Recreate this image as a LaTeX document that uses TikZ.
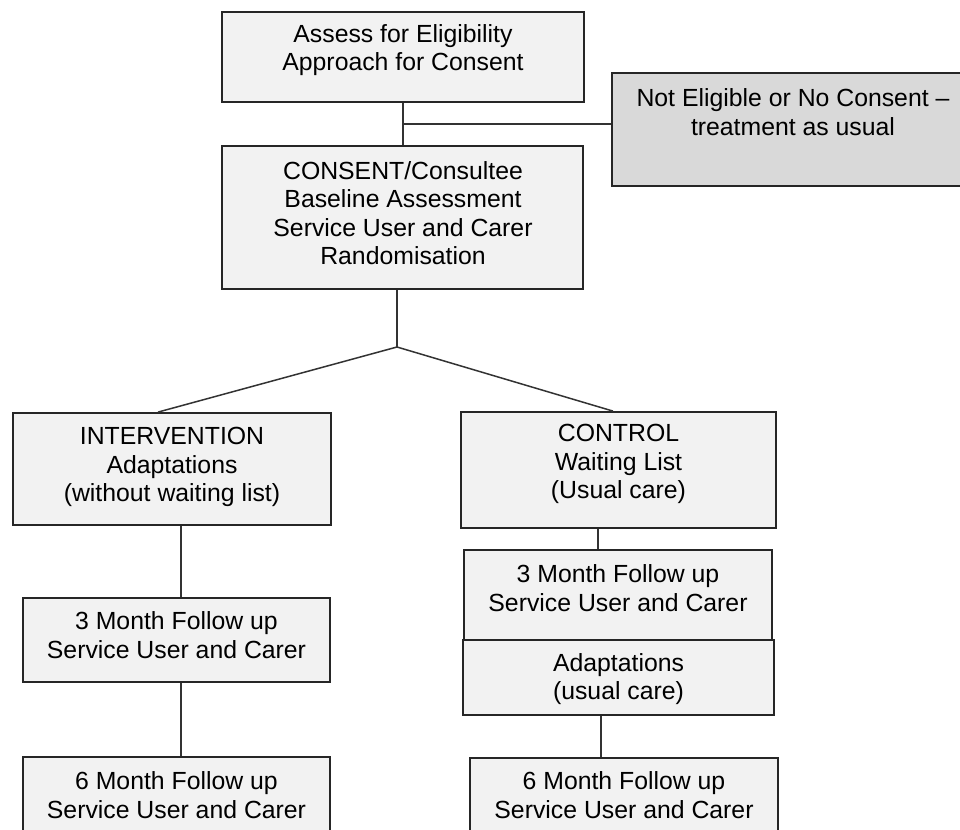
\documentclass[tikz,border=0pt]{standalone}
\usepackage{fontspec}
\setmainfont{Liberation Sans}
\definecolor{boxfill}{HTML}{F2F2F2}
\definecolor{darkfill}{HTML}{D9D9D9}
\definecolor{edge}{HTML}{262626}
\definecolor{wire}{HTML}{333333}
\begin{document}
\begin{tikzpicture}[x=1pt,y=-1pt,
  box/.style={draw=edge,line width=1.8pt,fill=boxfill,inner sep=0pt,rectangle},
  greybox/.style={box,fill=darkfill},
  txt/.style={align=center,inner sep=0pt,font=\fontsize{24.8}{28.5}\selectfont},
  wireline/.style={draw=wire,line width=1.5pt}]
\useasboundingbox (0,0) rectangle (960,829);
\clip (0,0) rectangle (960,829);
% boxes
\node[box,minimum width=362,minimum height=90] (b1) at (403,57) {};
\node[greybox,minimum width=362,minimum height=113] (ne) at (793,129.5) {};
\node[box,minimum width=361,minimum height=143] (b2) at (402.5,217.5) {};
\node[box,minimum width=318,minimum height=112] (int) at (172,469) {};
\node[box,minimum width=315,minimum height=116] (ctl) at (618.5,470) {};
\node[box,minimum width=307,minimum height=84] (f3l) at (176.5,640) {};
\node[box,minimum width=307,minimum height=93] (f6l) at (176.5,803.5) {};
\node[box,minimum width=308,minimum height=90] (f3r) at (618,595) {};
\node[box,minimum width=311,minimum height=75] (ad) at (618.5,677.5) {};
\node[box,minimum width=308,minimum height=92] (f6r) at (624,804) {};
% texts
\node[txt] (t1) at (403,50) {Assess for Eligibility\\Approach for Consent};
\node[txt] (tne) at (793,112) {Not Eligible or No Consent --\\treatment as usual};
\node[txt] (t2) at (403,213) {CONSENT/Consultee\\Baseline Assessment\\Service User and Carer\\Randomisation};
\node[txt] (tint) at (172,467) {INTERVENTION\\Adaptations\\(without waiting list)};
\node[txt] (tctl) at (618.5,464) {CONTROL\\Waiting List\\(Usual care)};
\node[txt] (tf3l) at (176.5,635) {3 Month Follow up\\Service User and Carer};
\node[txt] (tf6l) at (176.5,795) {6 Month Follow up\\Service User and Carer};
\node[txt] (tf3r) at (618,588) {3 Month Follow up\\Service User and Carer};
\node[txt] (tad) at (618.5,679) {Adaptations\\(usual care)};
\node[txt] (tf6r) at (624,795) {6 Month Follow up\\Service User and Carer};
% junctions
\coordinate (j1) at (403,124);
\coordinate (apex) at (397,347);
% connectors
\draw[wireline] (b1.south) -- (b1.south |- b2.north);
\draw[wireline] (j1) -- (j1 -| ne.west);
\draw[wireline] (apex |- b2.south) -- (apex);
\draw[wireline] (apex) -- ([xshift=-14pt]int.north);
\draw[wireline] (apex) -- ([xshift=-5.5pt]ctl.north);
\draw[wireline] ([xshift=9pt]int.south) -- ([xshift=9pt]int.south |- f3l.north);
\draw[wireline] ([xshift=4.5pt]f3l.south) -- ([xshift=4.5pt]f3l.south |- f6l.north);
\draw[wireline] ([xshift=-20.5pt]ctl.south) -- ([xshift=-20.5pt]ctl.south |- f3r.north);
\draw[wireline] ([xshift=-17.5pt]ad.south) -- ([xshift=-17.5pt]ad.south |- f6r.north);
\end{tikzpicture}
\end{document}
